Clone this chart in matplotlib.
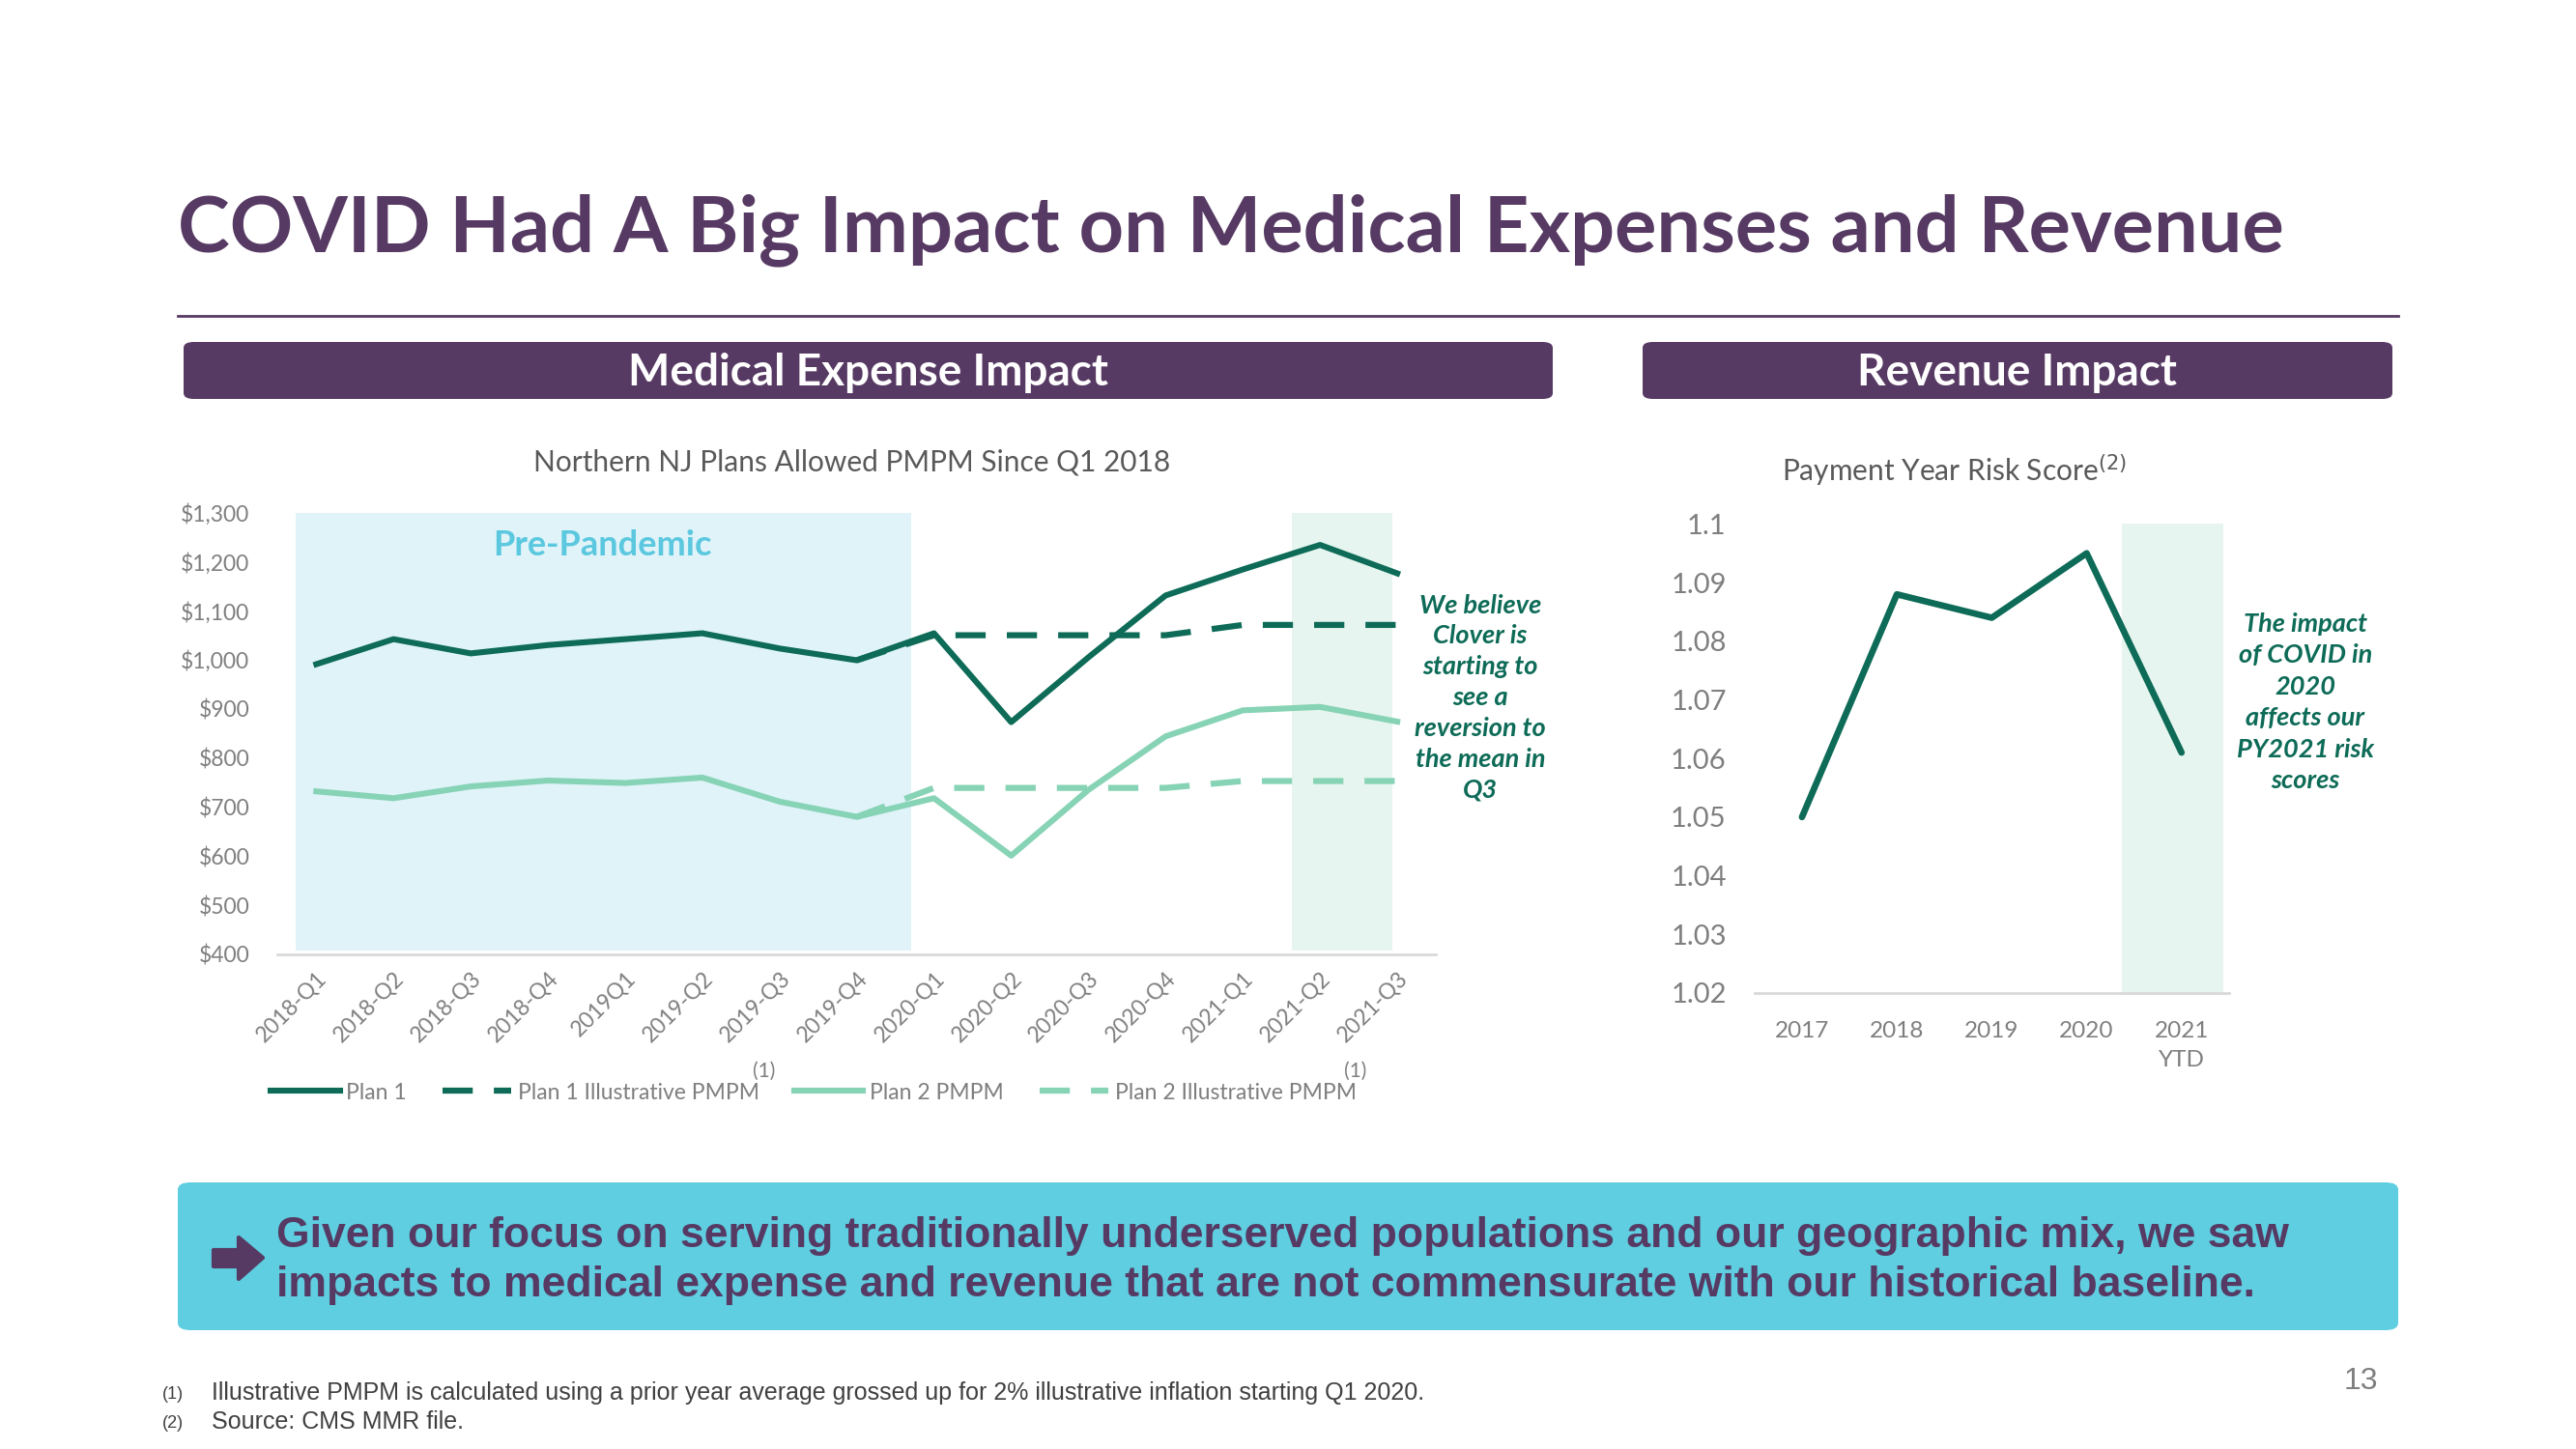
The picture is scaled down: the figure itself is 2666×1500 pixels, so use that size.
import numpy as np
import matplotlib.pyplot as plt
from matplotlib.patches import FancyBboxPatch, Polygon

W, H = 2666, 1500

PURPLE = '#573A63'
DARK = '#0D6B57'
LIGHT = '#87D3B6'
GREY = '#7F7F7F'

# medical expense chart
quarters = ['2018-Q1', '2018-Q2', '2018-Q3', '2018-Q4', '2019Q1', '2019-Q2', '2019-Q3', '2019-Q4',
            '2020-Q1', '2020-Q2', '2020-Q3', '2020-Q4', '2021-Q1', '2021-Q2', '2021-Q3']
plan1 = [991, 1042, 1013, 1030, 1042, 1054, 1023, 999, 1054, 873, 1005, 1131, 1184, 1234, 1176]
plan1_illus = [np.nan] * 7 + [999, 1050, 1050, 1050, 1050, 1071, 1071, 1071]
plan2 = [732, 718, 742, 754, 749, 760, 711, 680, 718, 601, 735, 844, 897, 904, 874]
plan2_illus = [np.nan] * 7 + [680, 739, 739, 739, 739, 753, 753, 753]
pmpm_ticks = [400, 500, 600, 700, 800, 900, 1000, 1100, 1200, 1300]

# revenue chart
years = ['2017', '2018', '2019', '2020', '2021\nYTD']
risk = [1.050, 1.088, 1.084, 1.095, 1.061]
risk_ticks = [1.02, 1.03, 1.04, 1.05, 1.06, 1.07, 1.08, 1.09, 1.1]


def fx(x):
    return x / W


def fy(y):
    return 1 - y / H


plt.rcParams['font.family'] = ['Lato', 'DejaVu Sans']
fig = plt.figure(figsize=(W / 100, H / 100), dpi=100)

# title + rule
fig.text(fx(184), fy(238), 'COVID Had A Big Impact on Medical Expenses and Revenue',
         fontsize=58.5, fontweight='bold', color=PURPLE, va='center', ha='left')
fig.add_artist(plt.Line2D([fx(184), fx(2482)], [fy(327), fy(327)], color=PURPLE, lw=2))

# section headers
for x0, x1, label in [(190, 1607, 'Medical Expense Impact'), (1700, 2476, 'Revenue Impact')]:
    box = FancyBboxPatch((fx(x0), fy(413)), fx(x1 - x0), (413 - 354) / H,
                         boxstyle='round,pad=0,rounding_size=0.004', transform=fig.transFigure,
                         facecolor=PURPLE, edgecolor='none')
    fig.add_artist(box)
    fig.text(fx((x0 + x1) / 2), fy(386), label, color='white', fontsize=33,
             fontweight='bold', ha='center', va='center')

# ---- left chart
ax = fig.add_axes([0.1078, 0.3414, 0.4496, 0.3049])
x = np.arange(len(quarters))
ax.axvspan(-0.27, 7.71, ymin=0.008, ymax=1, color='#DFF3F9', lw=0, zorder=0)
ax.axvspan(12.64, 13.94, ymin=0.008, ymax=1, color='#E6F5EF', lw=0, zorder=0)
ax.plot(x, plan1, color=DARK, lw=4.4, label='Plan 1', solid_joinstyle='round')
ax.plot(x, plan1_illus, color=DARK, lw=4.5, ls=(0, (5, 3.5)), label='Plan 1 Illustrative PMPM')
ax.plot(x, plan2, color=LIGHT, lw=4.4, label='Plan 2 PMPM', solid_joinstyle='round')
ax.plot(x, plan2_illus, color=LIGHT, lw=4.5, ls=(0, (5, 3.5)), label='Plan 2 Illustrative PMPM')
ax.set_xlim(-0.5, 14.5)
ax.set_ylim(400, 1300)
ax.set_yticks(pmpm_ticks)
ax.set_yticklabels(['${:,}'.format(v) for v in pmpm_ticks])
ax.set_xticks(x)
ax.set_xticklabels(quarters, rotation=45, ha='right', rotation_mode='anchor')
ax.tick_params(length=0, colors=GREY, labelsize=16.5)
ax.tick_params(axis='y', pad=21)
ax.tick_params(axis='x', pad=10)
for s in ['top', 'right', 'left']:
    ax.spines[s].set_visible(False)
ax.spines['bottom'].set_color('#D9D9D9')
ax.spines['bottom'].set_linewidth(2)
ax.text(3.7, 1234, 'Pre-Pandemic', color='#5BC8DF', fontsize=26, fontweight='bold',
        ha='center', va='center')
ax.legend(loc='center', bbox_to_anchor=(fx(842), fy(1131)), bbox_transform=fig.transFigure,
          ncol=4, frameon=False, fontsize=16.5, labelcolor=GREY, handlelength=3.1,
          handletextpad=0.3, columnspacing=1.6)
fig.text(fx(882), fy(478), 'Northern NJ Plans Allowed PMPM Since Q1 2018', color='#595959',
         fontsize=21.5, ha='center', va='center')
fig.text(fx(791), fy(1109), '(1)', color=GREY, fontsize=15, ha='center', va='center')
fig.text(fx(1403), fy(1109), '(1)', color=GREY, fontsize=15, ha='center', va='center')
fig.text(fx(1532), fy(722), 'We believe\nClover is\nstarting to\nsee a\nreversion to\nthe mean in\nQ3',
         color=DARK, fontsize=19.5, fontweight='bold', fontstyle='italic', ha='center', va='center',
         linespacing=1.39)

# ---- right chart
ax2 = fig.add_axes([0.6811, 0.3147, 0.1842, 0.3237])
xr = np.arange(len(years))
ax2.axvspan(3.37, 4.44, color='#E6F5EF', lw=0, zorder=0)
ax2.plot(xr, risk, color=DARK, lw=4.8, solid_joinstyle='round', solid_capstyle='round')
ax2.set_xlim(-0.5, 4.5)
ax2.set_ylim(1.02, 1.1)
ax2.set_yticks(risk_ticks)
ax2.set_yticklabels(['{:g}'.format(v) for v in risk_ticks])
ax2.set_xticks(xr)
ax2.set_xticklabels(years, linespacing=1.5)
ax2.tick_params(length=0, colors=GREY)
ax2.tick_params(axis='y', labelsize=21, pad=21)
ax2.tick_params(axis='x', labelsize=17.5, pad=21)
for s in ['top', 'right', 'left']:
    ax2.spines[s].set_visible(False)
ax2.spines['bottom'].set_color('#D9D9D9')
ax2.spines['bottom'].set_linewidth(2)
fig.text(fx(2023), fy(486), 'Payment Year Risk Score$^{(2)}$', color='#595959',
         fontsize=21.5, ha='center', va='center')
fig.text(fx(2386), fy(727), 'The impact\nof COVID in\n2020\naffects our\nPY2021 risk\nscores',
         color=DARK, fontsize=19.5, fontweight='bold', fontstyle='italic', ha='center', va='center',
         linespacing=1.43)

# callout box
fig.add_artist(FancyBboxPatch((fx(184), fy(1377)), fx(2482 - 184), (1377 - 1224) / H,
                              boxstyle='round,pad=0,rounding_size=0.005', transform=fig.transFigure,
                              facecolor='#5ECEE0', edgecolor='none'))
arrow = [(221, 1294), (247, 1294), (247, 1281), (272, 1302), (247, 1324), (247, 1311), (221, 1311)]
fig.add_artist(Polygon([(fx(a), fy(b)) for a, b in arrow], closed=True, transform=fig.transFigure,
                       facecolor=PURPLE, edgecolor=PURPLE, lw=3, joinstyle='round'))
callout = ('Given our focus on serving traditionally underserved populations and our geographic mix, we saw\n'
           'impacts to medical expense and revenue that are not commensurate with our historical baseline.')
fig.text(fx(286), fy(1305), callout, color=PURPLE, fontsize=32, fontweight='bold',
         family='Liberation Sans', ha='left', va='center', linespacing=1.33)

# footnotes
fig.text(fx(168), fy(1444), '(1)', color='#404040', fontsize=13, family='Liberation Sans', va='center')
fig.text(fx(219), fy(1442), 'Illustrative PMPM is calculated using a prior year average grossed up for 2% '
         'illustrative inflation starting Q1 2020.', color='#404040', fontsize=18,
         family='Liberation Sans', va='center')
fig.text(fx(168), fy(1474), '(2)', color='#404040', fontsize=13, family='Liberation Sans', va='center')
fig.text(fx(219), fy(1472), 'Source: CMS MMR file.', color='#404040', fontsize=18,
         family='Liberation Sans', va='center')
fig.text(fx(2443), fy(1430), '13', color=GREY, fontsize=23, family='Liberation Sans',
         ha='center', va='center')

fig.savefig('out.png', dpi=100)
